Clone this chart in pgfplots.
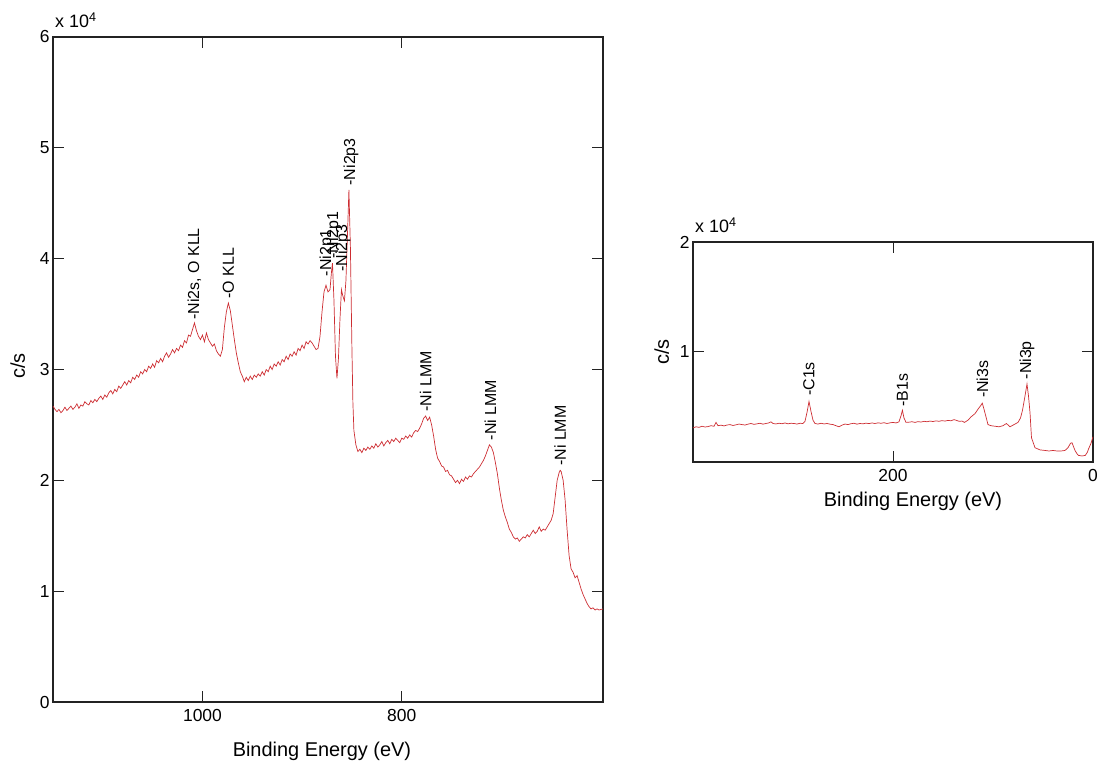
\documentclass[border=0pt]{standalone}
\usepackage{fontspec}
\setmainfont{Liberation Sans}
\usepackage{pgfplots}
\pgfplotsset{compat=1.18}
\definecolor{spec}{RGB}{205,45,50}
\definecolor{axc}{RGB}{35,35,35}
\tikzset{
  lbl/.style={rotate=90, anchor=west, inner sep=0pt, font=\fontsize{16}{18}\selectfont},
  pow/.style={anchor=base west, inner sep=0pt, xshift=2bp, yshift=9bp, font=\fontsize{18}{20}\selectfont},
}
\pgfplotsset{xps/.style={
  scale only axis, x dir=reverse, clip mode=individual,
  axis line style={axc, line width=1.1bp},
  every tick/.style={axc, line width=1bp},
  tick align=inside, major tick length=11bp,
  tick label style={font=\fontsize{17.5}{20}\selectfont, text=black},
  xticklabel style={yshift=-4bp},
  label style={font=\fontsize{20}{22}\selectfont},
  /pgf/number format/assume math mode=true,
  /pgf/number format/1000 sep={},
  scaled ticks=false,
}}
\begin{document}
\begin{tikzpicture}
\useasboundingbox (-53bp,-62bp) rectangle (1054bp,702bp);
% ---------------- left panel ----------------
\begin{axis}[xps, at={(0,0)}, anchor=south west,
  width=550bp, height=665bp,
  xmin=598, xmax=1150, ymin=0, ymax=6,
  xtick={800,1000}, ytick={0,1,2,3,4,5,6},
  xlabel={Binding Energy (eV)}, ylabel={c/s},
  xlabel style={at={(axis description cs:0.489,-0.074)}, anchor=center},
  ylabel style={at={(axis description cs:-0.064,0.505)}, anchor=center}]
\addplot[spec, line width=0.7bp] coordinates {
(1150,2.67) (1148,2.64) (1146,2.62) (1144,2.64) (1142,2.61) (1140,2.63) (1138,2.66) (1136,2.63)
(1134,2.65) (1132,2.67) (1130,2.64) (1128,2.66) (1126,2.69) (1124,2.65) (1122,2.68) (1120,2.67)
(1118,2.71) (1116,2.69) (1114,2.68) (1112,2.72) (1110,2.70) (1108,2.73) (1106,2.71) (1104,2.74)
(1102,2.76) (1100,2.73) (1098,2.77) (1096,2.75) (1094,2.79) (1092,2.81) (1090,2.78) (1088,2.82)
(1086,2.80) (1084,2.85) (1082,2.83) (1080,2.86) (1078,2.89) (1076,2.86) (1074,2.90) (1072,2.88)
(1070,2.93) (1068,2.91) (1066,2.95) (1064,2.93) (1062,2.98) (1060,2.96) (1058,3.00) (1056,2.98)
(1054,3.03) (1052,3.01) (1050,3.05) (1048,3.02) (1046,3.08) (1044,3.06) (1042,3.10) (1040,3.07)
(1038,3.12) (1036,3.15) (1034,3.11) (1032,3.14) (1030,3.18) (1028,3.15) (1026,3.19) (1024,3.17)
(1022,3.22) (1020,3.20) (1018,3.26) (1016,3.24) (1014,3.31) (1012,3.30) (1010,3.36) (1008,3.42)
(1006,3.35) (1004,3.30) (1002,3.27) (1000,3.31) (998,3.25) (996,3.33) (994,3.27) (992,3.24)
(990,3.21) (988,3.23) (986,3.17) (984,3.14) (982,3.12) (980,3.18) (978,3.38) (976,3.52)
(974,3.60) (972,3.53) (970,3.40) (968,3.27) (966,3.15) (964,3.06) (962,2.98) (960,2.94)
(958,2.89) (956,2.93) (954,2.90) (952,2.94) (950,2.91) (948,2.95) (946,2.93) (944,2.96)
(942,2.94) (940,2.98) (938,2.95) (936,3.00) (934,2.98) (932,3.03) (930,3.00) (928,3.05)
(926,3.03) (924,3.07) (922,3.04) (920,3.09) (918,3.07) (916,3.12) (914,3.09) (912,3.14)
(910,3.12) (908,3.16) (906,3.13) (904,3.19) (902,3.17) (900,3.22) (898,3.19) (896,3.25)
(894,3.23) (892,3.26) (890,3.24) (888,3.21) (886,3.18) (884,3.19) (882,3.30) (880,3.52)
(878,3.70) (876,3.76) (874,3.70) (872,3.72) (870.5,3.88) (869.5,3.96) (868,3.62) (866.5,3.12)
(865,2.92) (863.5,3.10) (862,3.45) (860.5,3.72) (859,3.66) (857.5,3.62) (856,3.80) (854.5,4.20)
(853,4.62) (851.5,4.10) (850,3.20) (849,2.70) (848,2.45) (846,2.32) (844,2.26) (842,2.28)
(840,2.25) (838,2.29) (836,2.27) (834,2.30) (832,2.28) (830,2.31) (828,2.29) (826,2.33)
(824,2.30) (822,2.32) (820,2.35) (818,2.31) (816,2.34) (814,2.36) (812,2.33) (810,2.37)
(808,2.35) (806,2.38) (804,2.36) (802,2.34) (800,2.38) (798,2.37) (796,2.40) (794,2.38)
(792,2.41) (790,2.39) (788,2.43) (786,2.45) (784,2.44) (782,2.47) (780,2.51) (778,2.56)
(776,2.58) (774,2.54) (772,2.57) (770,2.50) (768,2.40) (766,2.28) (764,2.20) (762,2.17)
(760,2.13) (758,2.12) (756,2.08) (754,2.09) (752,2.05) (750,2.04) (748,2.01) (746,1.98)
(744,2.00) (742,1.97) (740,2.01) (738,1.99) (736,2.03) (734,2.01) (732,2.04) (730,2.03)
(728,2.06) (726,2.08) (724,2.10) (722,2.12) (720,2.15) (718,2.18) (716,2.22) (714,2.27)
(712,2.32) (710,2.30) (708,2.25) (706,2.16) (704,2.06) (702,1.93) (700,1.82) (698,1.73)
(696,1.67) (694,1.62) (692,1.56) (690,1.53) (688,1.49) (686,1.47) (684,1.48) (682,1.45)
(680,1.47) (678,1.49) (676,1.48) (674,1.51) (672,1.49) (670,1.52) (668,1.55) (666,1.52)
(664,1.54) (662,1.58) (660,1.54) (658,1.56) (656,1.55) (654,1.58) (652,1.61) (650,1.64)
(648,1.70) (646,1.85) (644,2.00) (642,2.07) (641,2.09) (640,2.08) (638,2.00) (636,1.82)
(634,1.55) (632,1.32) (630,1.20) (628,1.17) (626,1.12) (624,1.14) (622,1.08) (620,1.02)
(618,0.97) (616,0.93) (614,0.89) (612,0.86) (610,0.84) (608,0.85) (606,0.83) (604,0.84)
(602,0.83) (598,0.84)
};
\node[pow] at (rel axis cs:0,1) {x 10\textsuperscript{4}};
\node[lbl] at (axis cs:1008,3.45) {-Ni2s, O KLL};
\node[lbl] at (axis cs:974,3.64) {-O KLL};
\node[lbl] at (axis cs:875,3.84) {-Ni2p1};
\node[lbl] at (axis cs:868,4.00) {-Ni2p1};
\node[lbl] at (axis cs:859,3.88) {-Ni2p3};
\node[lbl] at (axis cs:851,4.66) {-Ni2p3};
\node[lbl] at (axis cs:776,2.62) {-Ni LMM};
\node[lbl] at (axis cs:711,2.36) {-Ni LMM};
\node[lbl] at (axis cs:641,2.13) {-Ni LMM};
\end{axis}
% ---------------- right panel ----------------
\begin{axis}[xps, at={(640bp,240bp)}, anchor=south west,
  width=400bp, height=220bp,
  xmin=0, xmax=400, ymin=0, ymax=2,
  xtick={0,200}, ytick={1,2},
  xlabel={Binding Energy (eV)}, ylabel={c/s},
  xlabel style={at={(axis description cs:0.55,-0.18)}, anchor=center},
  ylabel style={at={(axis description cs:-0.078,0.5)}, anchor=center}]
\addplot[spec, line width=0.7bp] coordinates {
(400,0.31) (397,0.32) (394,0.315) (391,0.325) (388,0.318) (385,0.322) (382,0.33) (379,0.325)
(377,0.36) (375,0.33) (372,0.335) (369,0.328) (366,0.336) (363,0.34) (360,0.332) (357,0.338)
(354,0.345) (351,0.34) (348,0.336) (345,0.344) (342,0.35) (339,0.342) (336,0.347) (333,0.352)
(330,0.344) (327,0.35) (324,0.356) (322,0.365) (320,0.35) (317,0.346) (314,0.352) (311,0.348)
(308,0.355) (305,0.347) (302,0.352) (299,0.35) (296,0.345) (293,0.352) (290,0.35) (288,0.37)
(286,0.45) (284,0.55) (282,0.46) (280,0.38) (278,0.35) (275,0.345) (272,0.352) (269,0.346)
(266,0.35) (263,0.344) (260,0.34) (257,0.33) (254,0.32) (251,0.335) (248,0.345) (245,0.34)
(242,0.348) (239,0.352) (236,0.344) (233,0.35) (230,0.347) (227,0.353) (224,0.349) (221,0.355)
(218,0.35) (215,0.356) (212,0.352) (209,0.357) (206,0.35) (203,0.356) (200,0.36) (197,0.355)
(194,0.365) (192,0.42) (190.6,0.47) (189,0.40) (187,0.36) (184,0.362) (181,0.366) (178,0.36)
(175,0.367) (172,0.363) (169,0.37) (166,0.366) (163,0.372) (160,0.368) (157,0.374) (154,0.37)
(151,0.376) (148,0.372) (145,0.378) (142,0.375) (139,0.385) (137,0.38) (134,0.37) (131,0.372)
(128.5,0.36) (125,0.38) (122,0.41) (118,0.44) (115,0.48) (112.5,0.51) (110.7,0.535) (109,0.48)
(107,0.41) (105,0.34) (102,0.33) (98,0.325) (94,0.32) (90,0.33) (86.6,0.35) (83,0.32)
(79,0.34) (75,0.36) (72.5,0.40) (70.5,0.47) (68,0.60) (66,0.71) (64.5,0.60) (63,0.45)
(61.5,0.22) (58,0.13) (53,0.11) (48,0.105) (44,0.10) (40,0.105) (36,0.10) (32,0.10)
(28,0.105) (25,0.13) (22.5,0.17) (21,0.175) (19.5,0.14) (18,0.105) (16,0.075) (14.5,0.06)
(11,0.055) (7.7,0.06) (5.5,0.09) (4.4,0.12) (2,0.17) (0,0.23)
};
\node[pow] at (rel axis cs:0,1) {x 10\textsuperscript{4}};
\node[lbl] at (axis cs:284,0.60) {-C1s};
\node[lbl] at (axis cs:190.6,0.50) {-B1s};
\node[lbl] at (axis cs:110.7,0.58) {-Ni3s};
\node[lbl] at (axis cs:66,0.75) {-Ni3p};
\end{axis}
\end{tikzpicture}
\end{document}
